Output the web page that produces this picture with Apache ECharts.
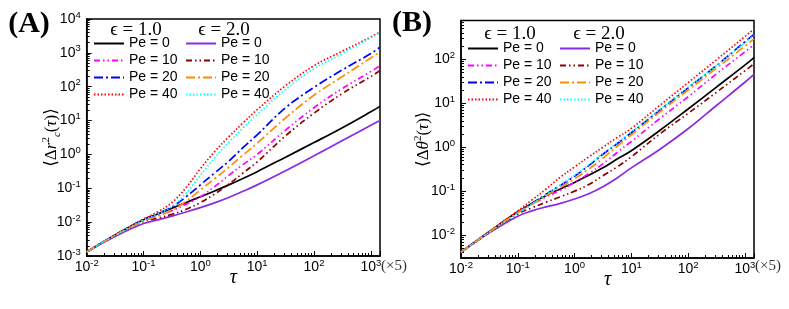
<!DOCTYPE html>
<html><head><meta charset="utf-8">
<script src="https://cdn.jsdelivr.net/npm/echarts@6/dist/echarts.min.js"></script>
<style>html,body{margin:0;padding:0;background:#fff}#c{width:789px;height:309px}</style>
</head><body><div id="c"></div>
<script>
// ---- data ----
const tau = [0.01, 0.0316, 0.1, 0.178, 0.316, 0.562, 1, 1.78, 3.16, 5.62, 10, 31.6, 100, 316, 1000, 1450];
const peLabels = ['Pe = 0', 'Pe = 10', 'Pe = 20', 'Pe = 40'];
const epsLabels = ['ϵ = 1.0', 'ϵ = 2.0'];

// Panel A : <Δr_c^2(τ)>
const A_eps1_pe0  = [0.00132,0.00417,0.0117,0.0174,0.0257,0.038,0.0562,0.0832,0.126,0.195,0.309,0.832,2.24,6.17,18.2,26.3];
const A_eps1_pe10 = [0.00132,0.00417,0.0115,0.0158,0.0219,0.0339,0.0562,0.112,0.24,0.501,1.0,5.25,24,89.1,282,417];
const A_eps1_pe20 = [0.00132,0.00417,0.012,0.0178,0.0282,0.0562,0.126,0.282,0.631,1.58,3.8,24,95.5,316,955,1480];
const A_eps1_pe40 = [0.00132,0.00417,0.0123,0.02,0.038,0.105,0.38,1.2,3.31,8.51,20.9,107,417,1120,2950,4170];
const A_eps2_pe0  = [0.00132,0.0038,0.00912,0.0117,0.0151,0.02,0.0269,0.0372,0.0537,0.0813,0.126,0.331,0.912,2.57,7.24,10.0];
const A_eps2_pe10 = [0.00132,0.00407,0.0105,0.0132,0.017,0.024,0.038,0.0676,0.132,0.282,0.603,3.55,16.6,63.1,200,302];
const A_eps2_pe20 = [0.00132,0.00407,0.0107,0.0151,0.0224,0.0417,0.0891,0.191,0.417,0.955,2.14,12,56.2,200,708,1070];
const A_eps2_pe40 = [0.00132,0.00407,0.0115,0.0174,0.0288,0.0708,0.24,0.794,2.24,6.03,15.1,83.2,339,955,2750,3980];

// Panel B : <Δθ^2(τ)>
const B_eps1_pe0  = [0.00407,0.012,0.0339,0.0525,0.0794,0.112,0.158,0.229,0.339,0.537,0.832,2.4,7.41,23.4,74.1,110];
const B_eps1_pe10 = [0.00407,0.0117,0.0331,0.0501,0.0741,0.105,0.158,0.251,0.417,0.759,1.35,4.47,14.1,46.8,148,214];
const B_eps1_pe20 = [0.00407,0.0117,0.0331,0.0525,0.0851,0.135,0.219,0.38,0.692,1.2,2.14,6.92,22.4,72.4,251,372];
const B_eps1_pe40 = [0.00407,0.012,0.0355,0.0631,0.112,0.209,0.355,0.603,1.0,1.66,2.69,8.91,29.5,97.7,331,490];
const B_eps2_pe0  = [0.00407,0.0112,0.0269,0.0355,0.0437,0.0525,0.0661,0.0871,0.126,0.2,0.339,0.891,2.63,8.91,30.2,45.7];
const B_eps2_pe10 = [0.00407,0.0115,0.0302,0.0417,0.0562,0.0741,0.1,0.141,0.224,0.355,0.603,2.0,5.89,17.8,55,79.4];
const B_eps2_pe20 = [0.00407,0.0117,0.0324,0.0501,0.0794,0.12,0.191,0.316,0.562,1.05,1.91,6.31,20,63.1,200,295];
const B_eps2_pe40 = [0.00407,0.0117,0.0316,0.0501,0.0832,0.138,0.229,0.398,0.724,1.26,2.24,7.24,23.4,72.4,240,355];

// axis ranges
const xRange = [0.01, 1450];
const yRangeA = [0.001, 10000];
const yRangeB = [0.003, 770];

// ---- styles ----
const styleE1 = [
  {color:'#000000', type:'solid'},
  {color:'#ff00ff', type:[6,3,1.5,3,1.5,3]},
  {color:'#0000ff', type:[9,3,2,3]},
  {color:'#ff0000', type:[1.5,2]}
];
const styleE2 = [
  {color:'#8a2be2', type:'solid'},
  {color:'#8b0000', type:[6,3,1.5,3,1.5,3]},
  {color:'#ff8c00', type:[9,3,2,3]},
  {color:'#00ffff', type:[1.5,2]}
];
const SANS = 'Liberation Sans, Arial, sans-serif';
const SERIF = 'Liberation Serif, DejaVu Serif, serif';

const panels = [
  {key:'A', grid:0, e1:[A_eps1_pe0,A_eps1_pe10,A_eps1_pe20,A_eps1_pe40], e2:[A_eps2_pe0,A_eps2_pe10,A_eps2_pe20,A_eps2_pe40]},
  {key:'B', grid:1, e1:[B_eps1_pe0,B_eps1_pe10,B_eps1_pe20,B_eps1_pe40], e2:[B_eps2_pe0,B_eps2_pe10,B_eps2_pe20,B_eps2_pe40]}
];

const nameMap = {};
const series = [];
const legendNames = {};
panels.forEach(p => {
  [['1', p.e1, styleE1], ['2', p.e2, styleE2]].forEach(([e, arrs, sty]) => {
    const names = [];
    arrs.forEach((arr, i) => {
      const nm = p.key + e + '_' + i;
      nameMap[nm] = peLabels[i];
      names.push(nm);
      series.push({
        name: nm, type: 'line', xAxisIndex: p.grid, yAxisIndex: p.grid,
        data: tau.map((t, j) => [t, arr[j]]),
        showSymbol: false, symbol: 'circle', symbolSize: 0, smooth: 0.4,
        lineStyle: {color: sty[i].color, type: sty[i].type, width: 1.7},
        itemStyle: {color: sty[i].color},
        emphasis: {disabled: true}, silent: true, z: 3
      });
    });
    legendNames[p.key + e] = names;
  });
});

function supLabel(v) {
  const l = Math.log10(v);
  const e = Math.round(l);
  if (Math.abs(l - e) > 1e-6) return '';
  return '{b|10}{s|' + e + '}';
}
const labelRich = {
  b: {fontSize: 14, fontFamily: SANS, color: '#000', lineHeight: 18},
  s: {fontSize: 9.5, fontFamily: SANS, color: '#000', lineHeight: 9, verticalAlign: 'top'}
};

function minorVals(lo, hi) {
  const out = [];
  for (let n = Math.floor(lo); n <= Math.ceil(hi); n++) {
    for (let k = 2; k <= 9; k++) {
      const v = n + Math.log10(k);
      if (v > lo + 1e-9 && v < hi - 1e-9) out.push(v);
    }
  }
  return out;
}

function mainX(grid) {
  return {
    type: 'log', logBase: 10, gridIndex: grid, min: xRange[0], max: xRange[1], position: 'bottom',
    name: 'τ', nameLocation: 'middle', nameGap: 12, nameMoveOverlap: false,
    nameTextStyle: {fontFamily: SERIF, fontStyle: 'italic', fontSize: 20, color: '#000'},
    axisLine: {show: true, onZero: false, lineStyle: {color: '#000', width: 1.5}},
    axisTick: {show: true, inside: true, length: 5, lineStyle: {color: '#000', width: 1}},
    axisLabel: {formatter: supLabel, rich: labelRich, margin: 2, hideOverlap: false},
    splitLine: {show: false}, minorTick: {show: false}
  };
}
function minorX(grid) {
  const lo = Math.log10(xRange[0]), hi = Math.log10(xRange[1]);
  return {
    type: 'value', gridIndex: grid, min: lo, max: hi, position: 'bottom',
    axisLine: {show: false, onZero: false}, axisLabel: {show: false}, splitLine: {show: false},
    axisTick: {show: true, inside: true, length: 3, customValues: minorVals(lo, hi), lineStyle: {color: '#000', width: 1}}
  };
}
function mainY(grid, range, nameRich, nameText, gap) {
  return {
    type: 'log', logBase: 10, gridIndex: grid, min: range[0], max: range[1], position: 'left',
    name: nameText, nameLocation: 'middle', nameGap: gap, nameRotate: 90, nameMoveOverlap: false,
    nameTextStyle: {rich: nameRich},
    axisLine: {show: true, onZero: false, lineStyle: {color: '#000', width: 1.5}},
    axisTick: {show: true, inside: true, length: 5, lineStyle: {color: '#000', width: 1}},
    axisLabel: {formatter: supLabel, rich: labelRich, margin: 6, hideOverlap: false},
    splitLine: {show: false}, minorTick: {show: false}
  };
}
function minorY(grid, range) {
  const lo = Math.log10(range[0]), hi = Math.log10(range[1]);
  return {
    type: 'value', gridIndex: grid, min: lo, max: hi, position: 'left',
    axisLine: {show: false, onZero: false}, axisLabel: {show: false}, splitLine: {show: false},
    axisTick: {show: true, inside: true, length: 3, customValues: minorVals(lo, hi), lineStyle: {color: '#000', width: 1}}
  };
}

const mathRich = {
  t: {fontFamily: SERIF, fontStyle: 'italic', fontSize: 17, color: '#000', lineHeight: 22},
  u: {fontFamily: SERIF, fontSize: 17, color: '#000', lineHeight: 22},
  sup: {fontFamily: SERIF, fontSize: 11, color: '#000', lineHeight: 12, verticalAlign: 'top'},
  sub: {fontFamily: SERIF, fontStyle: 'italic', fontSize: 11, color: '#000', lineHeight: 11, verticalAlign: 'bottom'}
};
const yNameA = '{u|⟨Δ}{t|r}{sup|2}{sub|c}{u|(}{t|τ}{u|)⟩}';
const yNameB = '{u|⟨Δ}{t|θ}{sup|2}{u|(}{t|τ}{u|)⟩}';

function legend(names, left, top) {
  return {
    data: names, orient: 'vertical', left: left, top: top, padding: 0,
    itemWidth: 30, itemHeight: 12, itemGap: 0, selectedMode: false,
    itemStyle: {opacity: 0},
    formatter: n => nameMap[n],
    textStyle: {fontFamily: SANS, fontSize: 14, color: '#000', lineHeight: 17}
  };
}

function txt(x, y, text, size, opts) {
  return Object.assign({type: 'text', x: x, y: y, z: 10, silent: true,
    style: Object.assign({text: text, fontSize: size, fontFamily: SERIF, fill: '#000', align: 'center', verticalAlign: 'middle'}, opts || {})});
}

const option = {
  animation: false,
  backgroundColor: '#ffffff',
  grid: [
    {left: 86.7, top: 19, width: 293.3, height: 237, show: true, borderColor: '#000', borderWidth: 1.5, containLabel: false},
    {left: 461, top: 20.5, width: 293, height: 237.5, show: true, borderColor: '#000', borderWidth: 1.5, containLabel: false}
  ],
  xAxis: [mainX(0), mainX(1), minorX(0), minorX(1)],
  yAxis: [mainY(0, yRangeA, mathRich, yNameA, 24), mainY(1, yRangeB, mathRich, yNameB, 26), minorY(0, yRangeA), minorY(1, yRangeB)],
  legend: [
    legend(legendNames['A1'], 93, 35),
    legend(legendNames['A2'], 185, 35),
    legend(legendNames['B1'], 467, 40),
    legend(legendNames['B2'], 559, 40)
  ],
  series: series,
  graphic: [
    txt(29, 24, '(A)', 30, {fontWeight: 'bold'}),
    txt(412, 23, '(B)', 30, {fontWeight: 'bold'}),
    txt(136, 30, epsLabels[0], 19),
    txt(224, 30, epsLabels[1], 19),
    txt(510, 34, epsLabels[0], 19),
    txt(599, 34, epsLabels[1], 19),
    txt(381, 266, '(×5)', 15, {align: 'left', fill: '#333'}),
    txt(755, 266, '(×5)', 15, {align: 'left', fill: '#333'})
  ]
};

const chart = echarts.init(document.getElementById('c'), null, {renderer: 'canvas'});
chart.setOption(option);
</script>
</body></html>
